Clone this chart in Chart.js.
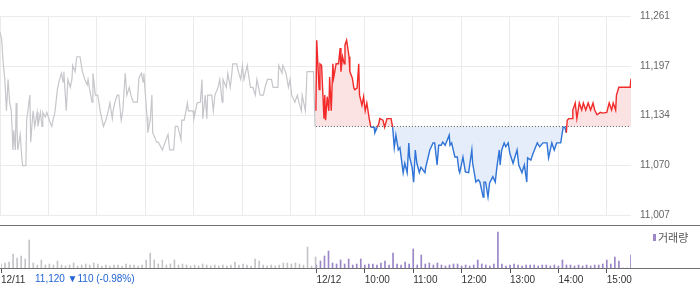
<!DOCTYPE html>
<html>
<head>
<meta charset="utf-8">
<script src="https://cdn.jsdelivr.net/npm/chart.js@4.4.1/dist/chart.umd.min.js"></script>
<style>
    html, body { margin: 0; padding: 0; background: #fff; }
    #wrap { position: relative; width: 700px; height: 289px; }
    #price { position: absolute; left: 0; top: 0; }
    #vol { position: absolute; left: 0; top: 225px; }
</style>
</head>
<body>
<div id="wrap">
    <canvas id="price" width="700" height="226"></canvas>
    <canvas id="vol" width="700" height="64"></canvas>
</div>
<script>
// minutes since 09:00 of each session; 12/12 session is placed after 12/11 on one axis
const DAY2_START = 391;
const AXIS_MAX = 781;
const prevClose = 11120;

const yTicks = [11007, 11070, 11134, 11197, 11261];
const gridTicks = [0, 60, 120, 180, 240, 300, 360, 391, 451, 511, 571, 631, 691, 751];
const xLabelTicks = [0, 391, 451, 511, 571, 631, 691, 751];
const xLabels = ['12/11', '12/12', '10:00', '11:00', '12:00', '13:00', '14:00', '15:00'];

// 12/11 (grey)
const times1 = [0,2,4,6,8,10,12,14,16,17,19,20,21,22,25,27,28,32,33,37,38,40,41,43,46,47,50,52,53,56,58,61,64,66,68,71,73,76,78,79,82,84,87,89,90,93,95,99,102,105,108,109,111,114,115,118,121,124,128,131,134,136,139,140,142,145,147,150,152,155,157,160,162,165,170,172,175,177,178,182,183,186,188,189,194,196,201,204,208,210,215,217,220,224,225,228,232,233,239,240,244,248,250,251,254,256,257,262,264,266,270,272,275,276,280,282,285,287,288,293,295,298,300,302,306,310,313,316,318,322,326,328,331,336,338,344,345,349,350,354,357,359,361,365,368,370,373,374,378,380,388,390];
const prices1 = [11240,11232,11200,11180,11140,11180,11150,11140,11090,11115,11090,11150,11120,11090,11110,11080,11070,11070,11128,11160,11100,11128,11140,11120,11138,11120,11138,11120,11138,11132,11138,11128,11120,11130,11138,11167,11177,11188,11177,11190,11140,11180,11170,11180,11198,11190,11209,11209,11190,11180,11173,11180,11167,11151,11188,11160,11160,11140,11120,11128,11140,11150,11130,11140,11150,11160,11160,11128,11140,11188,11160,11170,11160,11151,11151,11182,11188,11177,11188,11132,11112,11128,11160,11112,11100,11100,11090,11099,11110,11090,11090,11120,11120,11103,11128,11128,11150,11140,11140,11130,11150,11151,11180,11130,11160,11130,11160,11160,11140,11160,11170,11180,11151,11180,11170,11188,11170,11188,11200,11200,11190,11180,11198,11180,11198,11170,11170,11160,11180,11160,11160,11170,11180,11180,11170,11170,11198,11188,11198,11188,11170,11180,11160,11151,11160,11151,11140,11160,11140,11190,11190,11120];

// 12/12 (red above / blue below previous close)
const times2 = [0,1,4,5,7,10,11,12,14,16,17,19,21,22,25,28,30,31,33,35,36,38,41,42,45,47,48,51,53,54,57,59,61,63,66,68,72,73,76,78,79,83,85,88,93,95,97,99,102,104,108,110,113,115,116,119,121,123,125,128,130,135,136,139,141,145,147,150,152,155,157,160,165,166,168,172,175,177,178,182,185,189,193,194,198,201,203,207,208,210,213,215,219,222,224,227,228,230,233,235,238,240,244,249,251,255,258,261,262,266,269,274,277,281,286,288,292,295,298,303,306,308,310,311,313,317,318,321,323,326,329,331,334,337,340,343,345,348,352,355,360,363,366,368,371,372,375,389,390];
const prices2 = [11140,11230,11167,11200,11198,11130,11160,11128,11158,11140,11183,11140,11200,11182,11200,11200,11220,11190,11209,11200,11224,11230,11209,11190,11182,11169,11167,11169,11200,11160,11147,11158,11140,11150,11130,11119,11119,11112,11119,11124,11130,11128,11119,11130,11130,11119,11093,11109,11090,11093,11061,11073,11061,11099,11081,11068,11049,11090,11073,11061,11068,11061,11068,11081,11090,11099,11099,11071,11096,11096,11100,11096,11109,11096,11099,11081,11081,11064,11061,11081,11062,11061,11090,11073,11049,11052,11049,11030,11049,11049,11030,11048,11056,11049,11068,11090,11071,11090,11099,11094,11099,11086,11073,11090,11071,11061,11071,11049,11080,11077,11086,11099,11094,11099,11099,11080,11099,11090,11099,11099,11119,11119,11112,11128,11130,11130,11141,11150,11130,11150,11141,11150,11141,11150,11141,11150,11141,11135,11138,11137,11138,11150,11141,11150,11141,11160,11170,11170,11181];

// volume, one bar per 5 minutes
const vol1 = [4,5,6,14,10,12,9,28,5,3,8,3,4,3,7,3,2,3,5,2,3,4,3,5,4,2,3,2,3,3,2,4,3,3,2,3,8,15,8,4,8,3,4,8,3,4,3,2,3,2,4,3,2,3,2,3,2,3,6,3,4,3,2,9,7,3,2,3,2,3,5,5,4,5,4,3,21,2,11];
const vol2 = [3,7,12,17,5,4,8,4,9,3,4,9,3,4,4,3,5,7,3,15,4,3,6,4,19,3,13,4,5,3,5,3,2,3,4,4,2,3,2,3,8,4,3,2,4,36,4,2,3,4,3,2,3,3,3,2,3,3,2,3,2,8,3,3,2,3,2,3,2,3,3,4,8,4,11,7,0,0,13];

const lastPrice = 11120;
const change = -110;
const changePct = -0.98;
const volLabel = '거래량';

const RED = '#f22a2a';
const BLUE = '#2f74d6';
const GRID = '#ebebeb';
const FONT = "'Liberation Sans', Arial, sans-serif";

const day1 = times1.map((t, i) => ({ x: t, y: prices1[i] }));
const day2 = times2.map((t, i) => ({ x: DAY2_START + t, y: prices2[i] }));

new Chart(document.getElementById('price'), {
    type: 'line',
    data: {
        datasets: [
            {
                data: [{ x: DAY2_START, y: prevClose }, { x: AXIS_MAX, y: prevClose }],
                borderColor: '#555',
                borderWidth: 1,
                borderDash: [1, 2],
                pointRadius: 0,
                fill: false,
            },
            {
                data: day2,
                borderWidth: 1.4,
                pointRadius: 0,
                borderColor: RED,
                segment: {
                    borderColor: ctx => (ctx.p0.parsed.y + ctx.p1.parsed.y) / 2 >= prevClose ? RED : BLUE,
                },
                fill: { target: { value: prevClose }, above: 'rgba(252,224,224,0.9)', below: 'rgba(226,235,249,0.9)' },
            },
            {
                data: day1,
                borderColor: '#c6c6cb',
                borderWidth: 1.2,
                pointRadius: 0,
                fill: false,
            },
        ]
    },
    options: {
        responsive: false,
        animation: false,
        layout: { padding: { top: 16, bottom: 11, left: 0, right: 0 } },
        plugins: { legend: { display: false }, tooltip: { enabled: false } },
        scales: {
            x: {
                type: 'linear',
                min: 0,
                max: AXIS_MAX,
                afterBuildTicks: s => { s.ticks = gridTicks.map(v => ({ value: v })); },
                afterFit: s => { s.height = 0; },
                ticks: { display: false },
                grid: { color: GRID, drawTicks: false },
                border: { display: false },
            },
            y: {
                position: 'right',
                min: 11007,
                max: 11261,
                afterBuildTicks: s => { s.ticks = yTicks.map(v => ({ value: v })); },
                afterFit: s => { s.width = 69; s.paddingTop = 0; s.paddingBottom = 0; },
                ticks: {
                    color: '#666',
                    padding: 9,
                    font: { family: FONT, size: 10 },
                    callback: v => v.toLocaleString('en-US'),
                },
                grid: { color: GRID, drawTicks: false },
                border: { display: false },
            }
        }
    }
});

const framePlugin = {
    id: 'frame',
    afterDraw(chart) {
        const ctx = chart.ctx;
        const area = chart.chartArea;
        ctx.save();
        ctx.strokeStyle = '#707070';
        ctx.lineWidth = 1;
        ctx.beginPath();
        ctx.moveTo(0, 0.5); ctx.lineTo(700, 0.5);
        ctx.moveTo(0, area.bottom + 0.5); ctx.lineTo(700, area.bottom + 0.5);
        ctx.stroke();

        // legend
        ctx.fillStyle = '#9b86c8';
        ctx.fillRect(653, 9, 3, 7);
        ctx.fillStyle = '#555';
        ctx.font = "11px 'Noto Sans CJK KR', sans-serif";
        ctx.textBaseline = 'middle';
        ctx.fillText(volLabel, 658, 13);

        // last close info
        const sign = change >= 0 ? '▲' : '▼';
        const txt = lastPrice.toLocaleString('en-US') + ' ' + sign + Math.abs(change) + ' (' + changePct.toFixed(2) + '%)';
        ctx.fillStyle = '#1f63d4';
        ctx.font = '10px ' + FONT;
        ctx.fillText(txt, 35, area.bottom + 11);
        ctx.restore();
    }
};

new Chart(document.getElementById('vol'), {
    type: 'bar',
    data: {
        datasets: [
            {
                data: vol1.map((v, i) => ({ x: i * 5, y: v })),
                backgroundColor: '#c4c4c9',
                barThickness: 1,
                grouped: false,
            },
            {
                data: vol2.map((v, i) => ({ x: DAY2_START + i * 5, y: v })),
                backgroundColor: '#9b86c8',
                barThickness: 1,
                grouped: false,
            }
        ]
    },
    options: {
        responsive: false,
        animation: false,
        layout: { padding: { top: 1, bottom: 0, left: 0, right: 0 } },
        plugins: { legend: { display: false }, tooltip: { enabled: false } },
        scales: {
            x: {
                type: 'linear',
                offset: false,
                min: 0,
                max: AXIS_MAX,
                afterBuildTicks: s => { s.ticks = xLabelTicks.map(v => ({ value: v })); },
                afterFit: s => { s.height = 21; },
                ticks: {
                    autoSkip: false,
                    align: 'start',
                    color: '#333',
                    padding: 1,
                    maxRotation: 0,
                    font: { family: FONT, size: 10 },
                    callback: (v, i) => xLabels[i],
                },
                grid: { offset: false, drawOnChartArea: false, drawTicks: true, tickLength: 5, color: '#555' },
                border: { display: false },
            },
            y: {
                position: 'right',
                min: 0,
                max: 42,
                afterFit: s => { s.width = 69; },
                ticks: { display: false },
                grid: { display: false },
                border: { display: false },
            }
        }
    },
    plugins: [framePlugin]
});
</script>
</body>
</html>
